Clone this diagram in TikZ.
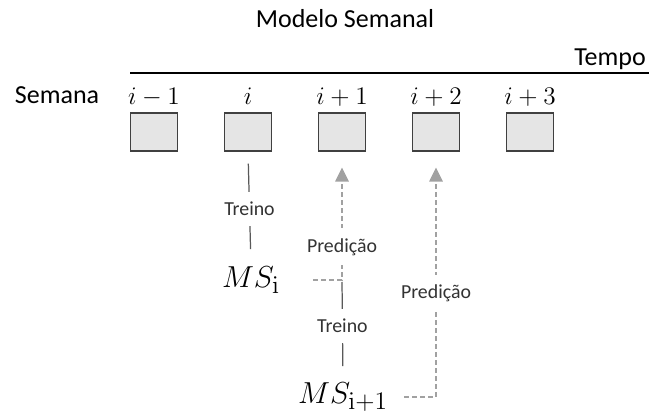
\documentclass[tikz,border=0pt]{standalone}
\usepackage{amsmath}
\usepackage[no-math]{fontspec}
\setmainfont{Carlito}
\usepackage{tikz}
\usetikzlibrary{calc,arrows.meta}
\newcommand{\pixelsize}{0.02cm}
\tikzset{
	grande/.style={font=\fontsize{14.8}{17}\selectfont, inner sep=0pt},
	indice/.style={font=\fontsize{15.5}{18}\selectfont, inner sep=0pt},
	modelo/.style={font=\fontsize{19}{22}\selectfont, inner sep=0pt},
	rotulo/.style={font=\fontsize{11.3}{13}\selectfont, text=black!80, fill=white, inner xsep=2pt, inner ysep=0.2cm},
	semana/.style={draw=black!75, line width=0.6pt, fill=gray!20, minimum width=47*\pixelsize, minimum height=38*\pixelsize, inner sep=0pt},
	treino/.style={draw=black!65, line width=0.7pt},
	predicao/.style={draw=black!37, line width=0.6pt, dash pattern=on 0.1cm off 0.06cm, -{Triangle[width=0.27cm,length=0.28cm]}}
}

\begin{document}
\begin{tikzpicture}[x=\pixelsize,y=-\pixelsize]
	\useasboundingbox (0,0) rectangle (649,418);

	\node[grande, anchor=base] (titulo) at (345,28) {Modelo Semanal};
	\node[grande, anchor=base] (tempo) at (610,66) {Tempo};
	\coordinate (t0) at (130,73);
	\coordinate (t1) at (649,73);
	\draw[line width=0.7pt] (t0) -- (t1);

	\node[grande, anchor=base] (semana) at (57,104) {Semana};
	\foreach \n/\lbl in {0/i-1,1/i,2/i+1,3/i+2,4/i+3}{
		\node[semana] (s\n) at (154+94*\n,132) {};
		\node[indice, anchor=base] (l\n) at ($(s\n.north)+(0,-8)$) {$\lbl$};
	}

	\node[modelo] (ms0) at (251,280) {$MS_{\mathrm{i}}$};
	\node[modelo] (ms1) at (343,397) {$MS_{\mathrm{i+1}}$};
	\coordinate (c0) at (s2.south |- ms0.east);
	\coordinate (c1) at (s3.south |- ms1.east);
	\coordinate (p0) at ($(s2.south)+(0,16)$);
	\coordinate (p1) at ($(s3.south)+(0,16)$);

	\draw[treino, shorten <=0.24cm, shorten >=0.34cm] (s1.south) -- node[rotulo] {Treino} (ms0.north);
	\draw[treino, shorten <=0.04cm, shorten >=0.32cm] (c0) -- node[rotulo, pos=0.45] {Treino} (ms1.north);

	\draw[predicao, shorten <=0.66cm] (ms0.east) -- (c0) -- (p0);
	\node[rotulo] (pr0) at ($(c0)!0.295!(p0)$) {Predição};
	\draw[predicao, shorten <=0.32cm] (ms1.east) -- (c1) -- (p1);
	\node[rotulo] (pr1) at ($(c1)!0.45!(p1)$) {Predição};
\end{tikzpicture}
\end{document}
